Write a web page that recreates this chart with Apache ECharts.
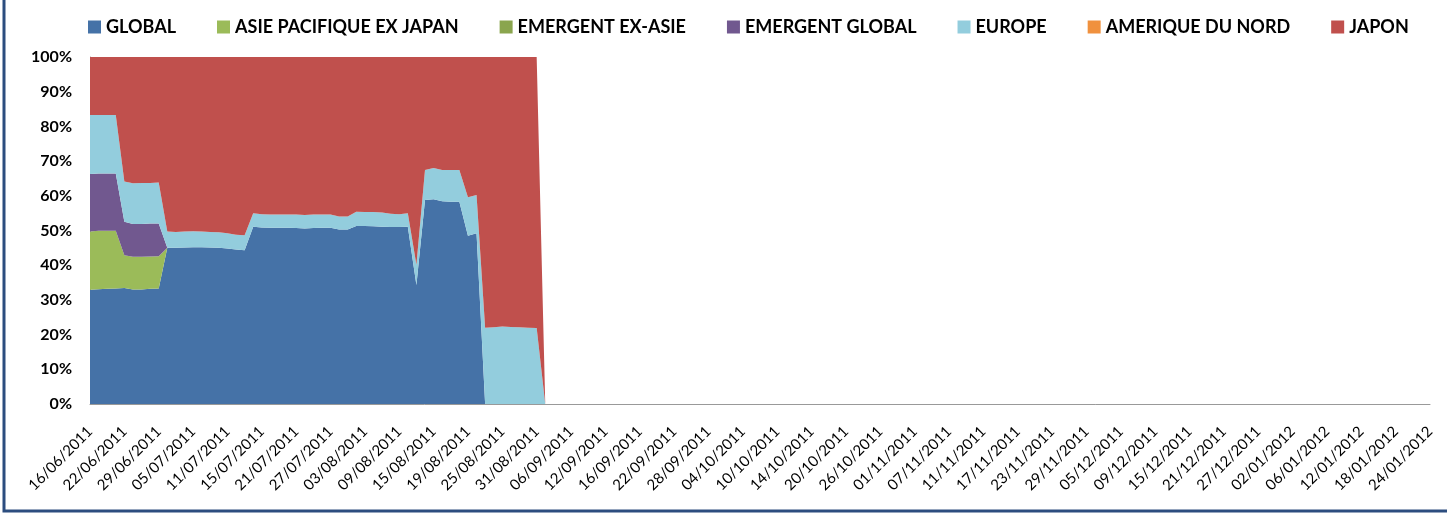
<!DOCTYPE html>
<html>
<head>
<meta charset="utf-8">
<script src="https://cdn.jsdelivr.net/npm/echarts@6/dist/echarts.min.js"></script>
<style>
  html, body { margin: 0; padding: 0; background: #fff; }
  #chart { width: 1447px; height: 517px; }
</style>
</head>
<body>
<div id="chart"></div>
<script>
// jours ouvrés (axe texte, une étiquette sur 4)
var dates = [
  '16/06/2011','17/06/2011','20/06/2011','21/06/2011','22/06/2011','23/06/2011','27/06/2011','28/06/2011','29/06/2011','30/06/2011',
  '01/07/2011','04/07/2011','05/07/2011','06/07/2011','07/07/2011','08/07/2011','11/07/2011','12/07/2011','13/07/2011','14/07/2011',
  '15/07/2011','18/07/2011','19/07/2011','20/07/2011','21/07/2011','22/07/2011','25/07/2011','26/07/2011','27/07/2011','28/07/2011',
  '01/08/2011','02/08/2011','03/08/2011','04/08/2011','05/08/2011','08/08/2011','09/08/2011','10/08/2011','11/08/2011','12/08/2011',
  '15/08/2011','16/08/2011','17/08/2011','18/08/2011','19/08/2011','22/08/2011','23/08/2011','24/08/2011','25/08/2011','26/08/2011',
  '29/08/2011','30/08/2011','31/08/2011','01/09/2011','02/09/2011','05/09/2011','06/09/2011','07/09/2011','08/09/2011','09/09/2011',
  '12/09/2011','13/09/2011','14/09/2011','15/09/2011','16/09/2011','19/09/2011','20/09/2011','21/09/2011','22/09/2011','23/09/2011',
  '26/09/2011','27/09/2011','28/09/2011','29/09/2011','30/09/2011','03/10/2011','04/10/2011','05/10/2011','06/10/2011','07/10/2011',
  '10/10/2011','11/10/2011','12/10/2011','13/10/2011','14/10/2011','17/10/2011','18/10/2011','19/10/2011','20/10/2011','21/10/2011',
  '24/10/2011','25/10/2011','26/10/2011','27/10/2011','28/10/2011','31/10/2011','01/11/2011','02/11/2011','03/11/2011','04/11/2011',
  '07/11/2011','08/11/2011','09/11/2011','10/11/2011','11/11/2011','14/11/2011','15/11/2011','16/11/2011','17/11/2011','18/11/2011',
  '21/11/2011','22/11/2011','23/11/2011','24/11/2011','25/11/2011','28/11/2011','29/11/2011','30/11/2011','01/12/2011','02/12/2011',
  '05/12/2011','06/12/2011','07/12/2011','08/12/2011','09/12/2011','12/12/2011','13/12/2011','14/12/2011','15/12/2011','16/12/2011',
  '19/12/2011','20/12/2011','21/12/2011','22/12/2011','23/12/2011','26/12/2011','27/12/2011','28/12/2011','29/12/2011','30/12/2011',
  '02/01/2012','03/01/2012','04/01/2012','05/01/2012','06/01/2012','09/01/2012','10/01/2012','11/01/2012','12/01/2012','13/01/2012',
  '16/01/2012','17/01/2012','18/01/2012','19/01/2012','20/01/2012','23/01/2012','24/01/2012'
];

// parts en %
var global = [32.9,33.1,33.2,33.3,33.4,33.0,33.0,33.2,33.3,
  45.0,45.0,45.1,45.2,45.2,45.1,45.0,44.8,44.5,44.3,
  51.1,50.9,50.8,50.8,50.8,50.7,50.6,50.7,50.8,50.8,50.3,50.3,51.3,51.3,51.2,51.1,51.0,51.0,51.1,
  34.3,58.8,59.0,58.4,58.3,58.3,48.5,49.2,
  0,0,0,0,0,0,0,0];
var asiePacifique = [16.8,16.8,16.7,16.6,9.5,9.4,9.4,9.3,9.3,
  0,0,0,0,0,0,0,0,0,0,
  0,0,0,0,0,0,0,0,0,0,0,0,0,0,0,0,0,0,0,
  0,0,0,0,0,0,0,0,
  0,0,0,0,0,0,0,0];
var emergentExAsie = [0,0,0,0,0,0,0,0,0,
  0,0,0,0,0,0,0,0,0,0,
  0,0,0,0,0,0,0,0,0,0,0,0,0,0,0,0,0,0,0,
  0,0,0,0,0,0,0,0,
  0,0,0,0,0,0,0,0];
var emergentGlobal = [16.6,16.5,16.5,16.5,9.6,9.5,9.5,9.5,9.4,
  0,0,0,0,0,0,0,0,0,0,
  0,0,0,0,0,0,0,0,0,0,0,0,0,0,0,0,0,0,0,
  0,0,0,0,0,0,0,0,
  0,0,0,0,0,0,0,0];
var europe = [17.0,16.9,16.9,16.9,11.6,11.7,11.8,11.7,11.8,
  4.7,4.6,4.6,4.6,4.5,4.5,4.5,4.4,4.3,4.3,
  3.9,3.8,3.8,3.8,3.8,3.9,3.9,3.9,3.8,3.8,3.7,3.7,4.1,4.0,4.1,4.1,3.8,3.7,3.9,
  5.8,8.6,9.0,9.0,9.1,9.1,11.1,11.0,
  22.0,22.1,22.3,22.2,22.1,22.0,21.9,0];
var ameriqueDuNord = [0,0,0,0,0,0,0,0,0,
  0,0,0,0,0,0,0,0,0,0,
  0,0,0,0,0,0,0,0,0,0,0,0,0,0,0,0,0,0,0,
  0,0,0,0,0,0,0,0,
  0,0,0,0,0,0,0,0];
var japon = [16.7,16.7,16.7,16.7,35.9,36.4,36.3,36.3,36.2,
  50.3,50.4,50.3,50.2,50.3,50.4,50.5,50.8,51.2,51.4,
  45.0,45.3,45.4,45.4,45.4,45.4,45.5,45.4,45.4,45.4,46.0,46.0,44.6,44.7,44.7,44.8,45.2,45.3,45.0,
  59.9,32.6,32.0,32.6,32.6,32.6,40.4,39.8,
  78.0,77.9,77.7,77.8,77.9,78.0,78.1,0];

var names = ['GLOBAL', 'ASIE PACIFIQUE EX JAPAN', 'EMERGENT EX-ASIE', 'EMERGENT GLOBAL', 'EUROPE', 'AMERIQUE DU NORD', 'JAPON'];
var couleurs = ['#4572A7', '#9BBB59', '#8AA54E', '#71588F', '#93CDDD', '#F0913E', '#C0504D'];
var valeurs = [global, asiePacifique, emergentExAsie, emergentGlobal, europe, ameriqueDuNord, japon];

var series = names.map(function (n, i) {
    return {
        name: n,
        type: 'line',
        stack: 'total',
        data: valeurs[i],
        symbol: 'none',
        lineStyle: { width: 0 },
        areaStyle: { color: couleurs[i], opacity: 1 },
        itemStyle: { color: couleurs[i] },
        emphasis: { disabled: true },
        animation: false
    };
});

var myChart = echarts.init(document.getElementById('chart'));
var option = {
    backgroundColor: '#fff',
    animation: false,
    color: couleurs,
    legend: {
        data: names,
        left: 83,
        top: 13,
        icon: 'rect',
        itemWidth: 13,
        itemHeight: 13,
        itemGap: 41,
        textStyle: { fontFamily: 'Lato', fontWeight: 'bold', fontSize: 18, color: '#000' }
    },
    grid: { left: 90, right: 17, top: 57, bottom: 113 },
    xAxis: {
        type: 'category',
        boundaryGap: false,
        data: dates,
        axisTick: { show: false },
        axisLine: { show: true, lineStyle: { color: '#999', width: 1 } },
        axisLabel: {
            interval: 3,
            rotate: 45,
            margin: 25,
            fontFamily: 'Lato',
            fontSize: 15,
            color: '#000'
        },
        splitLine: { show: false }
    },
    yAxis: {
        type: 'value',
        min: 0,
        max: 100,
        interval: 10,
        axisLine: { show: true, lineStyle: { color: '#999', width: 1 } },
        axisTick: { show: false },
        splitLine: { show: false },
        axisLabel: {
            formatter: '{value}%',
            margin: 18,
            fontFamily: 'Lato',
            fontWeight: 'bold',
            fontSize: 16,
            color: '#000'
        }
    },
    graphic: [{
        type: 'rect',
        shape: { x: 4, y: -10, width: 1450, height: 521 },
        style: { fill: 'none', stroke: '#2C4D7F', lineWidth: 3 },
        silent: true
    }],
    series: series
};
myChart.setOption(option);
</script>
</body>
</html>
